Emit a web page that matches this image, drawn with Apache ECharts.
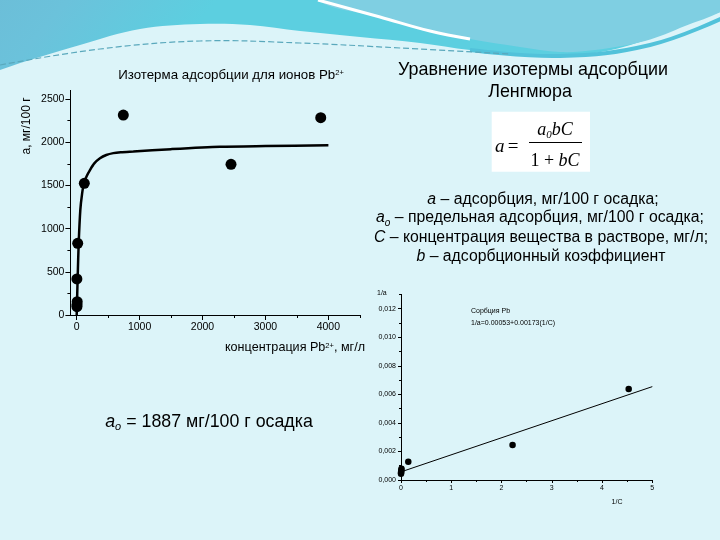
<!DOCTYPE html>
<html><head><meta charset="utf-8">
<script src="https://cdn.jsdelivr.net/npm/echarts@6/dist/echarts.min.js"></script>
<style>html,body{margin:0;padding:0;background:#dcf4f9;}#c{width:720px;height:540px;}</style>
</head><body><div id="c"></div>
<script>
// Left chart: Langmuir isotherm
const isoPointsC = [741, 3879, 2453, 121, 16, 3, 8, 5, 4];
const isoPointsA = [2315, 2284, 1744, 1524, 830, 417, 154, 120, 96];
const isoCurveC = [0, 16, 32, 58, 85, 116, 160, 211, 280, 370, 470, 582, 700, 900, 1500, 2278, 3000, 4001];
const isoCurveA = [0, 448, 833, 1219, 1400, 1531, 1610, 1678, 1755, 1814, 1852, 1874, 1884, 1893, 1920, 1948, 1956, 1964];
const isoXTicks = [0, 1000, 2000, 3000, 4000];
const isoXMinor = [500, 1500, 2500, 3500, 4500];
const isoYTicks = [0, 500, 1000, 1500, 2000, 2500];
const isoYMinor = [250, 750, 1250, 1750, 2250];
// Right chart: linearised form
const linPointsX = [4.53, 2.22, 0.145, 0.01, 0.006, 0.003, 0.001, 0];
const linPointsY = [0.00637, 0.00245, 0.00128, 0.00078, 0.00068, 0.00058, 0.00050, 0.00044];
const linLineX = [0, 5];
const linLineY = [0.00057, 0.00654];
const linXTicks = [0, 1, 2, 3, 4, 5];
const linXMinor = [0.5, 1.5, 2.5, 3.5, 4.5];
const linYTicks = [0, 0.002, 0.004, 0.006, 0.008, 0.010, 0.012];
const linYMinor = [0.001, 0.003, 0.005, 0.007, 0.009, 0.011, 0.013];

const zip = (a, b) => a.map((v, i) => [v, b[i]]);
const SANS = '"Liberation Sans", Arial, sans-serif';
const SERIF = '"Liberation Serif", "Times New Roman", serif';

const chart = echarts.init(document.getElementById('c'), null, {renderer: 'canvas'});

function majorAxis(grid, pos, min, max, ticks, fs, tickLen, labelMargin, fmt) {
  return {
    type: 'value', gridIndex: grid, position: pos, min: min, max: max,
    axisLine: {show: true, onZero: false, lineStyle: {color: '#000', width: 1}},
    axisTick: {show: true, customValues: ticks, length: tickLen, lineStyle: {color: '#000', width: 1}},
    axisLabel: {show: true, customValues: ticks, fontSize: fs, fontFamily: SANS, color: '#000', margin: labelMargin, formatter: fmt},
    splitLine: {show: false}
  };
}
function minorAxis(grid, pos, min, max, ticks, tickLen) {
  return {
    type: 'value', gridIndex: grid, position: pos, min: min, max: max,
    axisLine: {show: false, onZero: false},
    axisTick: {show: true, customValues: ticks, length: tickLen, lineStyle: {color: '#000', width: 1}},
    axisLabel: {show: false},
    splitLine: {show: false}
  };
}
const commaFmt = v => v.toFixed(3).replace('.', ',');
const DEF = 15.8;

const option = {
  backgroundColor: '#dcf4f9',
  animation: false,
  grid: [
    {left: 70.4, right: 360.2, top: 90.4, bottom: 225},
    {left: 401, right: 67.7, top: 294.4, bottom: 60}
  ],
  xAxis: [
    majorAxis(0, 'bottom', -100, 4500, isoXTicks, 10.5, 5, 7, v => String(v)),
    minorAxis(0, 'bottom', -100, 4500, isoXMinor, 3),
    majorAxis(1, 'bottom', 0, 5, linXTicks, 7, 3, 5, v => String(v)),
    minorAxis(1, 'bottom', 0, 5, linXMinor, 2)
  ],
  yAxis: [
    majorAxis(0, 'left', 0, 2600, isoYTicks, 10.5, 5, 6, v => String(v)),
    minorAxis(0, 'left', 0, 2600, isoYMinor, 3),
    majorAxis(1, 'left', 0, 0.013, linYTicks, 7, 3, 5, commaFmt),
    minorAxis(1, 'left', 0, 0.013, linYMinor, 2)
  ],
  series: [
    {type: 'line', xAxisIndex: 0, yAxisIndex: 0, data: zip(isoCurveC, isoCurveA), smooth: 0.25,
     showSymbol: false, symbol: 'none', lineStyle: {color: '#000', width: 2.5}, z: 2},
    {type: 'scatter', xAxisIndex: 0, yAxisIndex: 0, data: zip(isoPointsC, isoPointsA), symbol: 'circle',
     symbolSize: 11, itemStyle: {color: '#000', opacity: 1}, z: 3},
    {type: 'line', xAxisIndex: 2, yAxisIndex: 2, data: zip(linLineX, linLineY), showSymbol: false,
     symbol: 'none', lineStyle: {color: '#000', width: 1}, z: 2},
    {type: 'scatter', xAxisIndex: 2, yAxisIndex: 2, data: zip(linPointsX, linPointsY), symbol: 'circle',
     symbolSize: 6.5, itemStyle: {color: '#000', opacity: 1}, z: 3}
  ],
  graphic: [
    // decorative header
    {type: 'polygon', z: -10, shape: {smooth: 0.35, points: [[-60, 95], [-60, -60], [780, -60], [780, -5], [720, 12], [680, 27], [640, 42], [595, 53], [540, 56], [470, 50], [420, 43], [360, 37], [300, 31], [250, 25], [200, 24], [140, 29], [80, 45], [0, 70]]},
     style: {fill: {type: 'linear', x: 0, y: 0, x2: 0.25, y2: 1, colorStops: [{offset: 0, color: '#6db6d2'}, {offset: 0.6, color: '#6bc2db'}, {offset: 1, color: '#5ccfe0'}]}}},
    {type: 'polygon', z: -9, shape: {smooth: 0.35, points: [[318, -30], [318, 0], [380, 17], [430, 31], [470, 39], [520, 47], [560, 52], [595, 50], [645, 41], [685, 26], [730, 6], [760, -30]]},
     style: {fill: '#7fcfe2'}},
    {type: 'polyline', z: -8, shape: {smooth: 0.4, points: [[470, 50], [560, 56], [650, 45], [725, 17]]},
     style: {stroke: '#52c2da', lineWidth: 4}},
    {type: 'polyline', z: -8, shape: {smooth: 0.4, points: [[318, 0], [380, 17], [430, 31], [470, 39]]},
     style: {stroke: '#ffffff', lineWidth: 3}},
    {type: 'polyline', z: -7, shape: {smooth: 0.4, points: [[0, 65], [100, 49], [200, 41], [300, 43], [400, 48], [510, 54]]},
     style: {stroke: '#5aa8bc', lineWidth: 1.2, lineDash: [6, 3]}},

    // left chart texts
    {type: 'text', x: 231, y: 75, style: {text: '{n|Изотерма адсорбции для ионов Pb}{s|2+}', align: 'center', verticalAlign: 'middle',
      rich: {n: {fontSize: 13.3, fontFamily: SANS, fill: '#000', verticalAlign: 'bottom'}, s: {fontSize: 7.5, fontFamily: SANS, fill: '#000', verticalAlign: 'top'}}}},
    {type: 'text', x: 27, y: 126, rotation: Math.PI / 2, style: {text: 'a, мг/100 г', align: 'center', verticalAlign: 'middle',
      fontSize: 12, fontFamily: SANS, fill: '#000'}},
    {type: 'text', x: 365, y: 348, style: {text: '{n|концентрация Pb}{s|2+}{n|, мг/л}', align: 'right', verticalAlign: 'middle',
      rich: {n: {fontSize: 12.6, fontFamily: SANS, fill: '#000', verticalAlign: 'bottom'}, s: {fontSize: 7.5, fontFamily: SANS, fill: '#000', verticalAlign: 'top'}}}},
    {type: 'text', x: 209, y: 423, style: {text: '{i|a}{sub|o}{n| = 1887 мг/100 г осадка}', align: 'center', verticalAlign: 'middle',
      rich: {i: {fontSize: 17.8, fontFamily: SANS, fontStyle: 'italic', fill: '#000', verticalAlign: 'top'},
             sub: {fontSize: 11, fontFamily: SANS, fontStyle: 'italic', fill: '#000', verticalAlign: 'bottom', padding: [8, 0, 0, 0]},
             n: {fontSize: 17.8, fontFamily: SANS, fill: '#000', verticalAlign: 'top'}}}},

    // heading
    {type: 'text', x: 533, y: 70, style: {text: 'Уравнение изотермы адсорбции', align: 'center', verticalAlign: 'middle',
      fontSize: 17.9, fontFamily: SANS, fill: '#000'}},
    {type: 'text', x: 530, y: 92, style: {text: 'Ленгмюра', align: 'center', verticalAlign: 'middle',
      fontSize: 17.9, fontFamily: SANS, fill: '#000'}},

    // formula box
    {type: 'rect', shape: {x: 491.7, y: 111.7, width: 98.3, height: 60}, style: {fill: '#ffffff'}},
    {type: 'text', x: 495, y: 147, style: {text: '{i|a} {n|=}', align: 'left', verticalAlign: 'middle',
      rich: {i: {fontSize: 19, fontFamily: SERIF, fontStyle: 'italic', fill: '#000'}, n: {fontSize: 19, fontFamily: SERIF, fill: '#000'}}}},
    {type: 'text', x: 555, y: 131, style: {text: '{i|a}{sub|0}{i|bC}', align: 'center', verticalAlign: 'middle',
      rich: {i: {fontSize: 18, fontFamily: SERIF, fontStyle: 'italic', fill: '#000', verticalAlign: 'top'},
             sub: {fontSize: 11, fontFamily: SERIF, fontStyle: 'italic', fill: '#000', verticalAlign: 'bottom', padding: [8, 0, 0, 0]}}}},
    {type: 'line', shape: {x1: 529, y1: 142.5, x2: 582, y2: 142.5}, style: {stroke: '#000', lineWidth: 1}},
    {type: 'text', x: 555, y: 161, style: {text: '{n|1 + }{i|bC}', align: 'center', verticalAlign: 'middle',
      rich: {i: {fontSize: 18, fontFamily: SERIF, fontStyle: 'italic', fill: '#000'}, n: {fontSize: 18, fontFamily: SERIF, fill: '#000'}}}},

    // definitions
    {type: 'text', x: 543, y: 200, style: {text: '{i|a}{n| – адсорбция, мг/100 г осадка;}', align: 'center', verticalAlign: 'middle',
      rich: {i: {fontSize: DEF, fontFamily: SANS, fontStyle: 'italic', fill: '#000'}, n: {fontSize: DEF, fontFamily: SANS, fill: '#000'}}}},
    {type: 'text', x: 540, y: 219, style: {text: '{i|a}{sub|o}{n| – предельная адсорбция, мг/100 г осадка;}', align: 'center', verticalAlign: 'middle',
      rich: {i: {fontSize: DEF, fontFamily: SANS, fontStyle: 'italic', fill: '#000', verticalAlign: 'top'},
             sub: {fontSize: 10, fontFamily: SANS, fontStyle: 'italic', fill: '#000', verticalAlign: 'bottom', padding: [8, 0, 0, 0]},
             n: {fontSize: DEF, fontFamily: SANS, fill: '#000', verticalAlign: 'top'}}}},
    {type: 'text', x: 541, y: 238, style: {text: '{i|C}{n| – концентрация вещества в растворе, мг/л;}', align: 'center', verticalAlign: 'middle',
      rich: {i: {fontSize: DEF, fontFamily: SANS, fontStyle: 'italic', fill: '#000'}, n: {fontSize: DEF, fontFamily: SANS, fill: '#000'}}}},
    {type: 'text', x: 541, y: 257, style: {text: '{i|b}{n| – адсорбционный коэффициент}', align: 'center', verticalAlign: 'middle',
      rich: {i: {fontSize: DEF, fontFamily: SANS, fontStyle: 'italic', fill: '#000'}, n: {fontSize: DEF, fontFamily: SANS, fill: '#000'}}}},

    // right chart texts
    {type: 'text', x: 377, y: 293, style: {text: '1/a', align: 'left', verticalAlign: 'middle', fontSize: 7, fontFamily: SANS, fill: '#000'}},
    {type: 'text', x: 617, y: 502, style: {text: '1/C', align: 'center', verticalAlign: 'middle', fontSize: 7, fontFamily: SANS, fill: '#000'}},
    {type: 'text', x: 471, y: 311, style: {text: 'Сорбция Pb', align: 'left', verticalAlign: 'middle', fontSize: 7, fontFamily: SANS, fill: '#000'}},
    {type: 'text', x: 471, y: 323, style: {text: '1/a=0.00053+0.00173(1/C)', align: 'left', verticalAlign: 'middle', fontSize: 7, fontFamily: SANS, fill: '#000'}}
  ]
};
chart.setOption(option);
</script>
</body></html>
